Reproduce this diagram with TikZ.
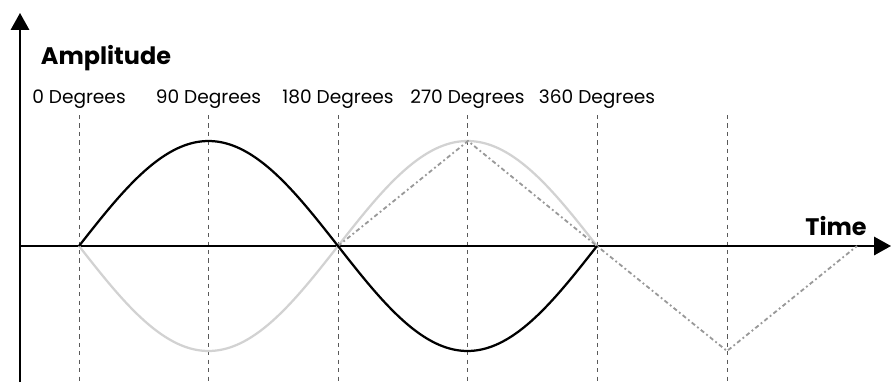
\documentclass[tikz,border=0pt]{standalone}
\usepackage{fontspec}
\setmainfont{Poppins}
\usetikzlibrary{arrows.meta}

\begin{document}
\begin{tikzpicture}[x=0.025cm, y=0.025cm, every node/.style={font=\fontsize{13.2}{15}\selectfont}, >={Triangle[length=12pt,width=13pt]}]
                \useasboundingbox (-20,-136) rectangle (871,246);

                % guide lines and degree labels
                \foreach \i/\lab in {0/0,1/90,2/180,3/270,4/360} {
                    \draw[gray!70!black, dashed, thin] (59+129.5*\i,131) -- (59+129.5*\i,-136);
                    \node (deg\i) at (59+129.5*\i,147) {\lab{} Degrees};
                }
                \draw[gray!70!black, dashed, thin] (707,131) -- (707,-136);

                % axes
                \draw[->, line width=1.4pt] (0,-136) -- (0,233);
                \draw[->, line width=1.4pt] (0,0) -- (871,0);
                \node[font=\fontsize{17}{20}\selectfont\bfseries] (amp) at (86,188) {Amplitude};
                \node[font=\fontsize{17}{20}\selectfont\bfseries] (time) at (816,20) {Time};

                % waves
                \draw[gray!35, line width=1.6pt] plot[domain=59:577, samples=80, smooth] (\x, {-105*sin((\x-59)/518*360)});
                \draw[gray!80, line width=1.3pt, dash dot] (318,0) -- (448,105) -- (577,0) -- (707,-105) -- (837,0);
                \draw[black, line width=1.6pt] plot[domain=59:577, samples=80, smooth] (\x, {105*sin((\x-59)/518*360)});
            \end{tikzpicture}
\end{document}
